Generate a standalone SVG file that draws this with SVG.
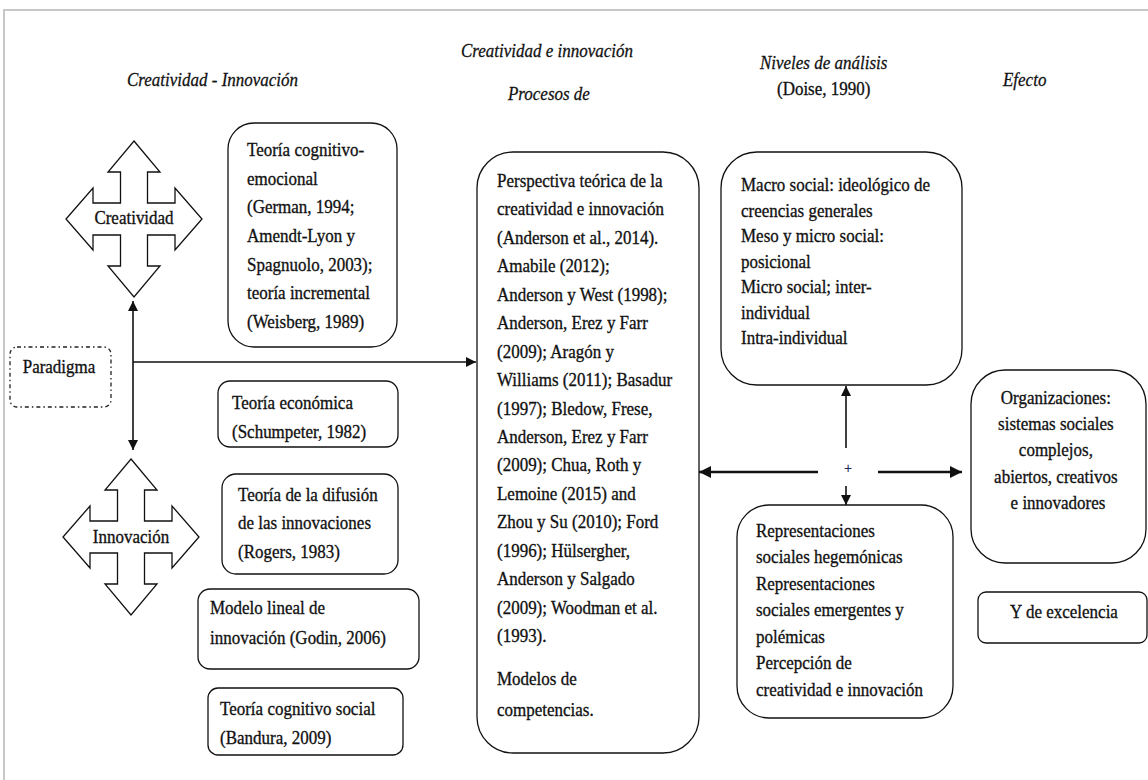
<svg xmlns="http://www.w3.org/2000/svg" width="1148" height="780" viewBox="0 0 1148 780">
  <style>
    .t { font-family: "Liberation Serif", "Times New Roman", serif; font-size: 17px; fill: #111; stroke: #111; stroke-width: 0.3; }
    .h { font-family: "Liberation Serif", "Times New Roman", serif; font-size: 17px; font-style: italic; fill: #111; stroke: #111; stroke-width: 0.25; }
    .c { text-anchor: middle; }
    .box { fill: #fff; stroke: #111; stroke-width: 1.3; }
    .cross { fill: #fff; stroke: #111; stroke-width: 1.3; stroke-linejoin: miter; }
    .dash { fill: #fff; stroke: #222; stroke-width: 1.3; stroke-dasharray: 4 3 1.5 3; }
    .ln { fill: none; stroke: #111; stroke-width: 1.6; }
    .lnb { fill: none; stroke: #111; stroke-width: 2.6; }
  </style>
  <defs>
    <marker id="ah" viewBox="0 0 10 10" refX="10" refY="5" markerWidth="10" markerHeight="10" markerUnits="userSpaceOnUse" orient="auto-start-reverse">
      <path d="M0,0 L10,5 L0,10 Z" fill="#111"/>
    </marker>
    <marker id="ahb" viewBox="0 0 10 10" refX="10" refY="5" markerWidth="12" markerHeight="12" markerUnits="userSpaceOnUse" orient="auto-start-reverse">
      <path d="M0,0 L10,5 L0,10 Z" fill="#111"/>
    </marker>
    <!-- four-way arrow, centred on the origin -->
    <polygon id="quad" class="cross" points="0,-78 26,-47 13.5,-47 13.5,-16 41,-16 41,-31 68,0 41,31 41,16 13.5,16 13.5,47 26,47 0,78 -26,47 -13.5,47 -13.5,16 -41,16 -41,31 -68,0 -41,-31 -41,-16 -13.5,-16 -13.5,-47 -26,-47"/>
  </defs>

  <rect width="1148" height="780" fill="#fff"/>
  <!-- page frame -->
  <path d="M4,780 V10 H1148" fill="none" stroke="#c8c8c8" stroke-width="2"/>

  <!-- column headings -->
  <g id="headings">
    <text class="h" transform="translate(127,86) scale(1,1.15)">Creatividad - Innovación</text>
    <text class="h" transform="translate(461,57) scale(1,1.15)">Creatividad e innovación</text>
    <text class="h" transform="translate(508,100) scale(1,1.15)">Procesos de</text>
    <text class="h" transform="translate(760,69) scale(1,1.15)">Niveles de análisis</text>
    <text class="t" transform="translate(777,95) scale(1,1.15)">(Doise, 1990)</text>
    <text class="h" transform="translate(1003,86) scale(1,1.15)">Efecto</text>
  </g>

  <!-- connectors -->
  <g id="connectors">
    <line class="ln" x1="133" y1="301" x2="133" y2="450" marker-start="url(#ah)" marker-end="url(#ah)"/>
    <line class="ln" x1="133" y1="362" x2="476" y2="362" marker-end="url(#ah)"/>
    <line class="ln" x1="846" y1="448" x2="846" y2="386" marker-end="url(#ah)"/>
    <line class="ln" x1="846" y1="486" x2="846" y2="505" marker-end="url(#ah)"/>
    <line class="lnb" x1="818" y1="472" x2="699" y2="472" marker-end="url(#ahb)"/>
    <line class="lnb" x1="878" y1="472" x2="962" y2="472" marker-end="url(#ahb)"/>
    <text x="848" y="473" font-family="Liberation Sans, Arial, sans-serif" font-size="14" fill="#1a2a5a" text-anchor="middle">+</text>
  </g>

  <g id="creatividad">
    <use href="#quad" x="134" y="219"/>
    <text class="t c" transform="translate(134,224) scale(1,1.12)">Creatividad</text>
  </g>

  <g id="innovacion">
    <use href="#quad" x="131" y="537"/>
    <text class="t c" transform="translate(131,543) scale(1,1.12)">Innovación</text>
  </g>

  <g id="paradigma">
    <rect class="dash" x="10" y="347" width="101" height="60" rx="7"/>
    <text class="t c" transform="translate(59,373) scale(1,1.12)">Paradigma</text>
  </g>

  <g id="teoria-cognitivo-emocional">
    <rect class="box" x="228" y="123" width="169" height="224" rx="26"/>
    <text class="t" transform="translate(247,156) scale(1,1.12)">
      <tspan x="0" y="0">Teoría cognitivo-</tspan>
      <tspan x="0" dy="25.6">emocional</tspan>
      <tspan x="0" dy="25.6">(German, 1994;</tspan>
      <tspan x="0" dy="25.6">Amendt-Lyon y</tspan>
      <tspan x="0" dy="25.6">Spagnuolo, 2003);</tspan>
      <tspan x="0" dy="25.6">teoría incremental</tspan>
      <tspan x="0" dy="25.6">(Weisberg, 1989)</tspan>
    </text>
  </g>

  <g id="teoria-economica">
    <rect class="box" x="218" y="381" width="180" height="66" rx="12"/>
    <text class="t" transform="translate(232,409) scale(1,1.12)">
      <tspan x="0" y="0">Teoría económica</tspan>
      <tspan x="0" dy="25.9">(Schumpeter, 1982)</tspan>
    </text>
  </g>

  <g id="teoria-difusion">
    <rect class="box" x="222" y="474" width="176" height="100" rx="14"/>
    <text class="t" transform="translate(238,501) scale(1,1.12)">
      <tspan x="0" y="0">Teoría de la difusión</tspan>
      <tspan x="0" dy="25.4">de las innovaciones</tspan>
      <tspan x="0" dy="25.4">(Rogers, 1983)</tspan>
    </text>
  </g>

  <g id="modelo-lineal">
    <rect class="box" x="198" y="589" width="221" height="80" rx="12"/>
    <text class="t" transform="translate(210,614) scale(1,1.12)">
      <tspan x="0" y="0">Modelo lineal de</tspan>
      <tspan x="0" dy="26.8">innovación (Godin, 2006)</tspan>
    </text>
  </g>

  <g id="teoria-cognitivo-social">
    <rect class="box" x="208" y="688" width="195" height="67" rx="10"/>
    <text class="t" transform="translate(220,715) scale(1,1.12)">
      <tspan x="0" y="0">Teoría cognitivo social</tspan>
      <tspan x="0" dy="25.9">(Bandura, 2009)</tspan>
    </text>
  </g>

  <g id="procesos">
    <rect class="box" x="477" y="152" width="222" height="601" rx="36"/>
    <text class="t" transform="translate(497,187) scale(1,1.12)">
      <tspan x="0" y="0">Perspectiva teórica de la</tspan>
      <tspan x="0" dy="25.4">creatividad e innovación</tspan>
      <tspan x="0" dy="25.4">(Anderson et al., 2014).</tspan>
      <tspan x="0" dy="25.4">Amabile (2012);</tspan>
      <tspan x="0" dy="25.4">Anderson y West (1998);</tspan>
      <tspan x="0" dy="25.4">Anderson, Erez y Farr</tspan>
      <tspan x="0" dy="25.4">(2009); Aragón y</tspan>
      <tspan x="0" dy="25.4">Williams (2011); Basadur</tspan>
      <tspan x="0" dy="25.4">(1997); Bledow, Frese,</tspan>
      <tspan x="0" dy="25.4">Anderson, Erez y Farr</tspan>
      <tspan x="0" dy="25.4">(2009); Chua, Roth y</tspan>
      <tspan x="0" dy="25.4">Lemoine (2015) and</tspan>
      <tspan x="0" dy="25.4">Zhou y Su (2010); Ford</tspan>
      <tspan x="0" dy="25.4">(1996); Hülsergher,</tspan>
      <tspan x="0" dy="25.4">Anderson y Salgado</tspan>
      <tspan x="0" dy="25.4">(2009); Woodman et al.</tspan>
      <tspan x="0" dy="25.4">(1993).</tspan>
      <tspan x="0" dy="38.5">Modelos de</tspan>
      <tspan x="0" dy="27.7">competencias.</tspan>
    </text>
  </g>

  <g id="niveles">
    <rect class="box" x="721" y="152" width="241" height="233" rx="36"/>
    <text class="t" transform="translate(741,191) scale(1,1.12)">
      <tspan x="0" y="0">Macro social: ideológico de</tspan>
      <tspan x="0" dy="22.8">creencias generales</tspan>
      <tspan x="0" dy="22.8">Meso y micro social:</tspan>
      <tspan x="0" dy="22.8">posicional</tspan>
      <tspan x="0" dy="22.8">Micro social; inter-</tspan>
      <tspan x="0" dy="22.8">individual</tspan>
      <tspan x="0" dy="22.8">Intra-individual</tspan>
    </text>
  </g>

  <g id="representaciones">
    <rect class="box" x="737" y="505" width="216" height="213" rx="32"/>
    <text class="t" transform="translate(756,537) scale(1,1.12)">
      <tspan x="0" y="0">Representaciones</tspan>
      <tspan x="0" dy="23.6">sociales hegemónicas</tspan>
      <tspan x="0" dy="23.6">Representaciones</tspan>
      <tspan x="0" dy="23.6">sociales emergentes y</tspan>
      <tspan x="0" dy="23.6">polémicas</tspan>
      <tspan x="0" dy="23.6">Percepción de</tspan>
      <tspan x="0" dy="23.6">creatividad e innovación</tspan>
    </text>
  </g>

  <g id="organizaciones">
    <rect class="box" x="971" y="370" width="175" height="193" rx="34"/>
    <text class="t c" transform="translate(1058,404) scale(1,1.12)">
      <tspan x="0" y="0">Organizaciones:</tspan>
      <tspan x="0" dy="23.4">sistemas sociales</tspan>
      <tspan x="0" dy="23.4">complejos,</tspan>
      <tspan x="0" dy="23.4">abiertos, creativos</tspan>
      <tspan x="0" dy="23.4">e innovadores</tspan>
    </text>
  </g>

  <g id="excelencia">
    <rect class="box" x="978" y="592" width="169" height="51" rx="8"/>
    <text class="t c" transform="translate(1064,618) scale(1,1.12)">Y de excelencia</text>
  </g>
</svg>
